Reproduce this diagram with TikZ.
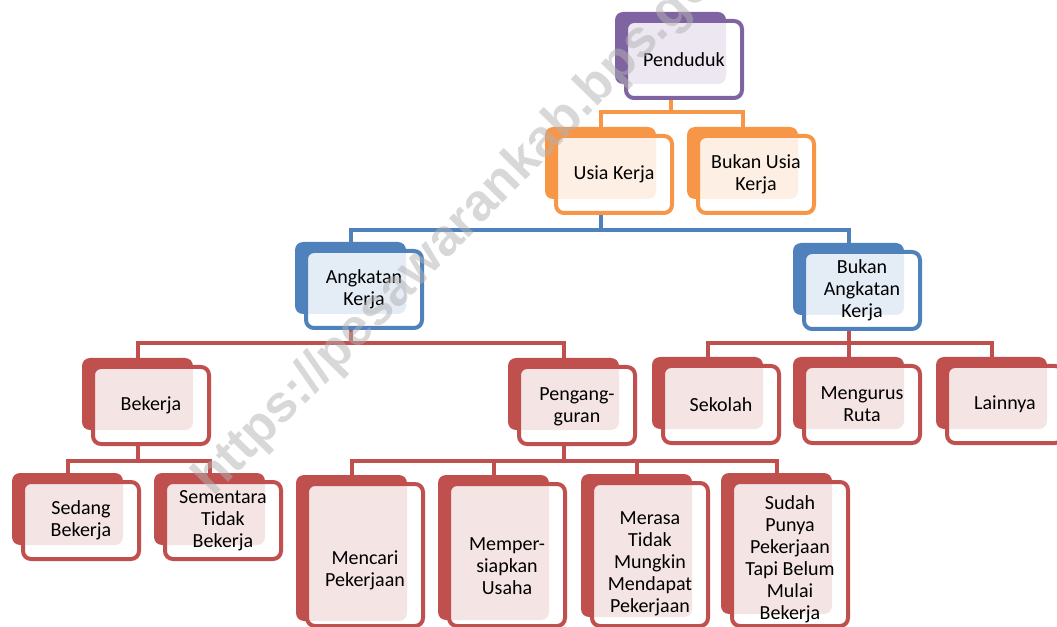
\documentclass[tikz,border=0pt]{standalone}
\usepackage{fontspec}
\setmainfont{Carlito}
\newfontfamily\wmfont{Liberation Sans}
\usetikzlibrary{backgrounds}
\definecolor{cpurple}{RGB}{128,100,162}
\definecolor{corange}{RGB}{247,150,70}
\definecolor{cblue}{RGB}{79,129,189}
\definecolor{cred}{RGB}{192,80,77}
\newcommand\obox[8]{%
  \node[backbox=#2, minimum height=#5*0.75pt] (#1B) at (#3,#4) {};
  \node[frontbox=#2, minimum height=#6*0.75pt] (#1) at (#3+11,#4+9) {};
  \node[boxtext] (#1T) at ([yshift=-#7*0.75pt]#1.center) {#8};
}
\begin{document}
\begin{tikzpicture}[x=0.75pt,y=-0.75pt,
  backbox/.style={fill=#1, draw=none, rounded corners=6pt, minimum width=83.25pt,
    anchor=north west, inner sep=0pt, outer sep=0pt},
  frontbox/.style={draw=#1, line width=3pt, fill=white, fill opacity=0.85, draw opacity=1,
    rounded corners=6pt, minimum width=87pt, anchor=north west, inner sep=0pt, outer sep=0pt},
  boxtext/.style={align=center, inner sep=0pt, font=\fontsize{15}{16.5}\selectfont, text=black},
  conn/.style={draw=#1, line width=3pt, line join=miter},
  wm/.style={font=\wmfont\bfseries\fontsize{39}{39}\selectfont, text=black!30, text opacity=0.5,
    rotate=45.5, anchor=base west, inner sep=0pt},
]
\useasboundingbox (0,0) rectangle (1057,627);
% level 0
\obox{pend}{cpurple}{615}{12}{72}{77}{0}{Penduduk}
% level 1
\obox{usia}{corange}{545}{127}{72}{77}{0}{Usia Kerja}
\obox{busia}{corange}{687}{127}{72}{77}{0}{Bukan Usia\\Kerja}
% level 2
\obox{ak}{cblue}{295}{242}{72}{77}{0}{Angkatan\\Kerja}
\obox{bak}{cblue}{793}{243}{72}{77}{0}{Bukan\\Angkatan\\Kerja}
% level 3
\obox{bek}{cred}{82}{358}{72}{77}{0}{Bekerja}
\obox{peng}{cred}{508}{358}{72}{77}{1}{Pengang-\\guran}
\obox{sek}{cred}{652}{357}{72}{77}{0}{Sekolah}
\obox{mrt}{cred}{793}{357}{72}{77}{0}{Mengurus\\Ruta}
\obox{lain}{cred}{936}{357}{72}{77}{0}{Lainnya}
% level 4
\obox{sedang}{cred}{12}{473}{72}{77}{0}{Sedang\\Bekerja}
\obox{sement}{cred}{154}{473}{72}{77}{0}{Sementara\\Tidak\\Bekerja}
\obox{mencari}{cred}{296}{475}{146}{142}{15}{Mencari\\Pekerjaan}
\obox{memper}{cred}{438}{475}{145}{142}{11}{Memper-\\siapkan\\Usaha}
\obox{merasa}{cred}{581}{474}{143}{143}{9}{Merasa\\Tidak\\Mungkin\\Mendapat\\Pekerjaan}
\obox{sudah}{cred}{721}{473}{141}{144}{5}{Sudah\\Punya\\Pekerjaan\\Tapi Belum\\Mulai\\Bekerja}
% bar levels
\coordinate (barA) at (0,112);
\coordinate (barB) at (0,230);
\coordinate (barC) at (0,343);
\coordinate (barD) at (0,461);
\begin{pgfonlayer}{background}
  % Penduduk
  \draw[conn=corange] (pendB |- pend.south) -- (pendB |- barA);
  \draw[conn=corange] (usiaB.north) -- (usiaB |- barA) -- (busiaB |- barA) -- (busiaB.north);
  % Usia Kerja
  \draw[conn=cblue] (usiaB |- usia.south) -- (usiaB |- barB);
  \draw[conn=cblue] (akB.north) -- (akB |- barB) -- (bakB |- barB) -- (bakB.north);
  % Angkatan Kerja
  \draw[conn=cred] (akB |- ak.south) -- (akB |- barC);
  \draw[conn=cred] (bekB.north) -- (bekB |- barC) -- (pengB |- barC) -- (pengB.north);
  % Bukan Angkatan Kerja
  \draw[conn=cred] (bakB |- bak.south) -- (bakB.north |- mrtB.north);
  \draw[conn=cred] (sekB.north) -- (sekB |- barC) -- (lainB |- barC) -- (lainB.north);
  % Bekerja
  \draw[conn=cred] (bekB |- bek.south) -- (bekB |- barD);
  \draw[conn=cred] (sedangB.north) -- (sedangB |- barD) -- (sementB |- barD) -- (sementB.north);
  % Pengangguran
  \draw[conn=cred] (pengB |- peng.south) -- (pengB |- barD);
  \draw[conn=cred] (mencariB.north) -- (mencariB |- barD) -- (sudahB |- barD) -- (sudahB.north);
  \draw[conn=cred] (memperB |- barD) -- (memperB.north);
  \draw[conn=cred] (merasaB |- barD) -- (merasaB.north);
\end{pgfonlayer}
% watermark
\node[wm] (wmark) at (213,498) {https://pesawarankab.bps.go.id};
\end{tikzpicture}
\end{document}
